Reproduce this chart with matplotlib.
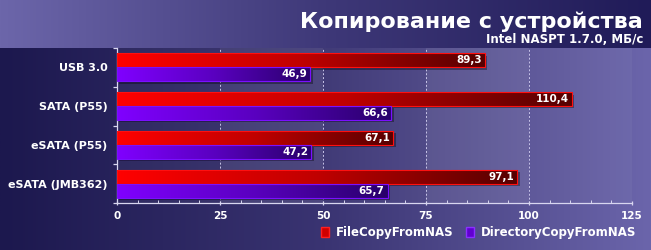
import numpy as np
import matplotlib
matplotlib.use("Agg")
import matplotlib.pyplot as plt
from matplotlib.colors import LinearSegmentedColormap
from matplotlib.patches import Patch, Rectangle

# данные
categories = ["USB 3.0", "SATA (P55)", "eSATA (P55)", "eSATA (JMB362)"]
file_copy = [89.3, 110.4, 67.1, 97.1]
dir_copy = [46.9, 66.6, 47.2, 65.7]
series_names = ["FileCopyFromNAS", "DirectoryCopyFromNAS"]
x_ticks = [0, 25, 50, 75, 100, 125]

title = "Копирование с устройства"
subtitle = "Intel NASPT 1.7.0, МБ/с"

plt.rcParams['font.family'] = ['DejaVu Sans']

fig = plt.figure(figsize=(6.51, 2.5), dpi=100)

# фон всей картинки — градиент слева направо
bg = fig.add_axes([0, 0, 1, 1], zorder=-10)
bg_cmap = LinearSegmentedColormap.from_list("bg", ["#1c184e", "#3a3472", "#6b65ab"])
bg.imshow(np.linspace(0, 1, 256)[None, :], cmap=bg_cmap, aspect='auto', extent=[0, 1, 0, 1])
bg.axis('off')

# шапка — обратный градиент
hd = fig.add_axes([0, 1 - 48 / 250, 1, 48 / 250], zorder=-9)
hd_cmap = LinearSegmentedColormap.from_list("hd", ["#6c66aa", "#3e3878", "#201b58"])
hd.imshow(np.linspace(0, 1, 256)[None, :], cmap=hd_cmap, aspect='auto', extent=[0, 1, 0, 1])
hd.axis('off')

fig.text(0.987, 0.912, title, ha='right', va='center', color='white',
         fontsize=16, fontweight='bold')
fig.text(0.988, 0.843, subtitle, ha='right', va='center', color='white',
         fontsize=8.5, fontweight='bold')

ax = fig.add_axes([117 / 651, 47 / 250, 515 / 651, 155 / 250])
ax.set_facecolor('none')

y = np.arange(len(categories))
h = 0.36
red_bars = ax.barh(y - h / 2, file_copy, height=h, color='none', edgecolor='none')
blue_bars = ax.barh(y + h / 2, dir_copy, height=h, color='none', edgecolor='none')

red_cmap = LinearSegmentedColormap.from_list("r", ["#ff0000", "#c00000", "#560000"])
blue_cmap = LinearSegmentedColormap.from_list("b", ["#8000ff", "#5a00c0", "#28006a"])
grad = np.linspace(0, 1, 256)[None, :]

for bars, cmap, edge in [(red_bars, red_cmap, "#ff1010"), (blue_bars, blue_cmap, "#7a10ff")]:
    for r in bars:
        x0, y0, w, hh = r.get_x(), r.get_y(), r.get_width(), r.get_height()
        # тень
        ax.add_patch(Rectangle((x0 + 0.6, y0 + 0.06), w, hh, color='black', alpha=0.35,
                               zorder=2, lw=0))
        ax.imshow(grad, cmap=cmap, aspect='auto', extent=[x0, x0 + w, y0 + hh, y0],
                  zorder=3, interpolation='bilinear')
        ax.add_patch(Rectangle((x0, y0), w, hh, fill=False, edgecolor=edge, lw=0.8, zorder=4))
        ax.text(x0 + w - 0.8, y0 + hh / 2, f"{w:.1f}".replace('.', ','), ha='right',
                va='center', color='white', fontsize=7.5, fontweight='bold', zorder=5)

# полосы фона в области графика
for i in range(len(x_ticks) - 1):
    ax.axvspan(x_ticks[i], x_ticks[i + 1], color='white',
               alpha=0.10 if i % 2 else 0.04, lw=0, zorder=0)
for t in x_ticks[1:]:
    ax.axvline(t, color='#c8c4e8', lw=0.7, ls=(0, (2, 2)), zorder=1)

ax.set_xlim(0, 125)
ax.set_ylim(len(categories) - 0.5, -0.5)
ax.set_xticks(x_ticks)
ax.set_xticks(np.arange(0, 126, 5), minor=True)
ax.set_yticks(y)
ax.set_yticklabels(categories)
ax.set_yticks(np.arange(-0.5, len(categories)), minor=True)

for s in ['top', 'right']:
    ax.spines[s].set_visible(False)
for s in ['left', 'bottom']:
    ax.spines[s].set_color('#d8d6f0')
    ax.spines[s].set_linewidth(0.9)

ax.tick_params(axis='x', colors='#d8d6f0', labelcolor='white', labelsize=7.5,
               length=3, width=0.9, pad=4, direction='inout')
ax.tick_params(axis='x', which='minor', colors='#d8d6f0', length=2, width=0.7, direction='in')
ax.tick_params(axis='y', which='major', length=0, labelcolor='white', labelsize=8, pad=7)
ax.tick_params(axis='y', which='minor', colors='#d8d6f0', length=3, width=0.9)
for lab in ax.get_xticklabels() + ax.get_yticklabels():
    lab.set_fontweight('bold')

handles = [Patch(facecolor='#d00000', edgecolor='#ff2020'),
           Patch(facecolor='#6000d0', edgecolor='#8a30ff')]
fig.legend(handles, series_names, loc='center right', bbox_to_anchor=(0.994, 0.07),
           ncol=2, frameon=False, labelcolor='white', handlelength=0.7, handleheight=1.0,
           handletextpad=0.6, columnspacing=1.0,
           prop={'weight': 'bold', 'size': 8.5})

fig.savefig("out.png", dpi=100)
